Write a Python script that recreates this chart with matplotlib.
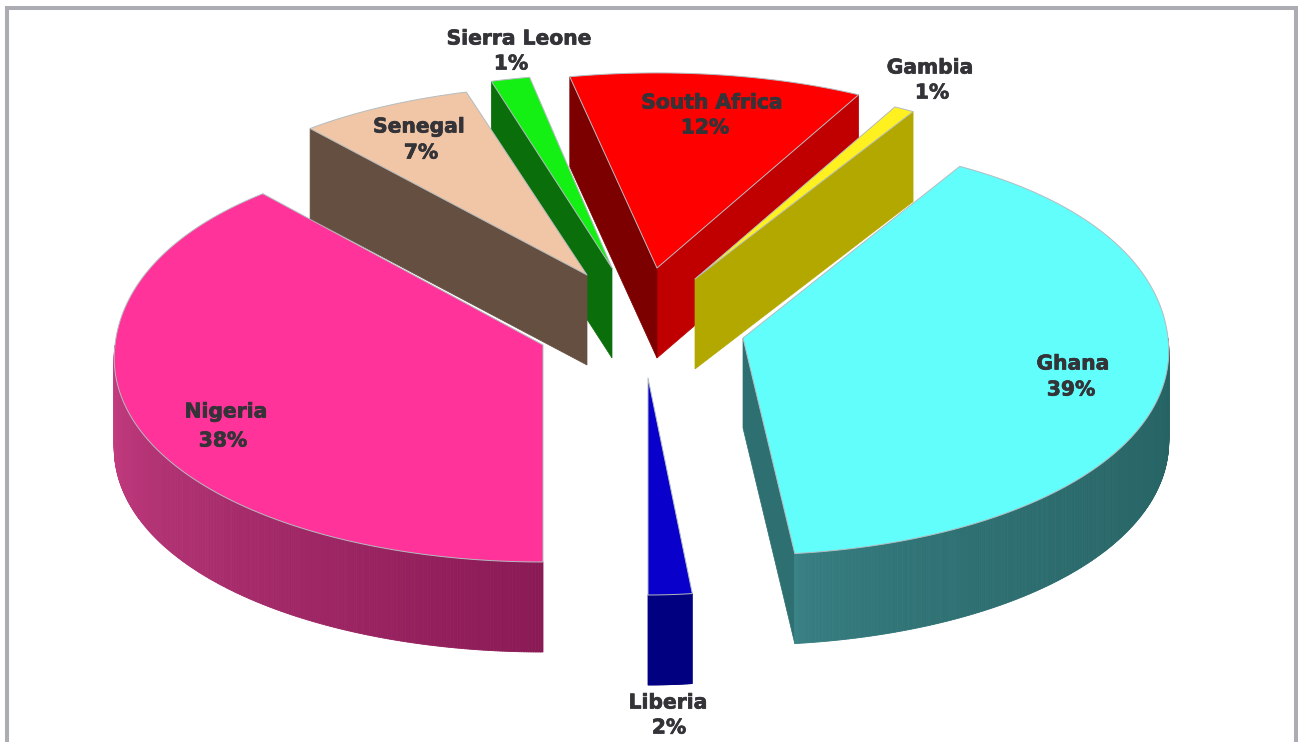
import numpy as np
import matplotlib
matplotlib.use("Agg")
import matplotlib.pyplot as plt
import matplotlib.patheffects as pe
from matplotlib.patches import Polygon
from matplotlib.collections import PolyCollection

# data (clockwise from the first slice)
countries = ["Ghana", "Liberia", "Nigeria", "Senegal", "Sierra Leone", "South Africa", "Gambia"]
shares = [39, 2, 38, 7, 1, 12, 1]

# styling and layout
top_colors = ["#62FEFC", "#0A00CC", "#FF3399", "#F1C6A6", "#14F013", "#FF0000", "#FFF020"]
wall_low = ["#2E7072", "#000080", "#7D1A55", "#5F4A3C", "#0A6F0A", "#C00000", "#B3A800"]
wall_high = ["#2E7072", "#000080", "#7D1A55", "#654F40", "#0A6F0A", "#7D0000", "#B3A800"]
rim_left = ["#3A8488", "#000080", "#C63E83", "#654F40", "#0A6F0A", "#C00000", "#B3A800"]
rim_right = ["#266263", "#000080", "#8A1A55", "#654F40", "#0A6F0A", "#C00000", "#B3A800"]
rim_power = [0.45, 1.0, 1.0, 1.0, 1.0, 1.0, 1.0]
apex_x = [743, 648, 543, 587, 612, 657, 695]
apex_y = [338, 378, 345, 275, 268, 268, 279]
rx_scale = [0.993, 0.85, 1.0, 1.0, 1.0, 1.0, 0.985]
ry_scale = [1.0, 1.0, 1.0, 0.96, 0.98, 0.985, 0.98]
# small per-slice corrections (degrees) for the picture's perspective
nudge_hi = [0.5, 0.0, 0.6, 0.0, 0.0, -1.3, -0.6]
nudge_lo = [0.0, 0.6, 0.6, 0.0, -2.0, -0.4, 0.0]
draw_order = [2, 4, 3, 5, 6, 0, 1]
label_xy = [(1073, 364), (668, 703), (226, 412), (419, 127), (519, 39), (712, 103), (930, 68)]
value_xy = [(1071, 390), (669, 728), (223, 441), (421, 153), (511, 64), (705, 128), (932, 93)]
START = 57.0
RX, RY_FRONT, RY_BACK, Q, K, DEPTH = 428.0, 217.0, 233.0, 0.15, 0.06, 90.0
W, H = 1298, 742

fig = plt.figure(figsize=(W / 100, H / 100), dpi=100, facecolor="white")
ax = fig.add_axes([0, 0, 1, 1])
ax.set_xlim(0, W)
ax.set_ylim(H, 0)
ax.axis("off")

# frame (open at the bottom)
ax.plot([7, 7, 1295.5, 1295.5], [H, 8, 8, H], color="#ABADB2", lw=2.9,
        solid_joinstyle="miter", zorder=0)


def project(t, i):
    s, c = np.sin(t), np.cos(t)
    x = apex_x[i] + rx_scale[i] * RX * c * (1 - K * s)
    y = apex_y[i] - ry_scale[i] * np.where(s > 0, RY_BACK * s * (1 - Q * s), RY_FRONT * s)
    return x, y


def mix(c0, c1, n, power):
    a = np.array(matplotlib.colors.to_rgb(c0))
    b = np.array(matplotlib.colors.to_rgb(c1))
    return [a + (b - a) * f ** power for f in np.linspace(0, 1, n)]


fractions = np.array(shares) / sum(shares) * 360.0
ends = START - np.cumsum(fractions)
starts = ends + fractions
z = 1
for i in draw_order:
    hi, lo = np.radians(starts[i] + nudge_hi[i]), np.radians(ends[i] + nudge_lo[i])
    t = np.linspace(lo, hi, max(12, int(shares[i] * 6)))
    x, y = project(t, i)
    ax0, ay0 = apex_x[i], apex_y[i]

    # radial walls facing the viewer
    if np.sin(lo - np.pi / 2) < -1e-3:
        ax.add_patch(Polygon([(ax0, ay0), (x[0], y[0]), (x[0], y[0] + DEPTH), (ax0, ay0 + DEPTH)],
                             closed=True, fc=wall_low[i], ec=wall_low[i], lw=0.5, zorder=z))
    if np.sin(hi + np.pi / 2) < -1e-3:
        ax.add_patch(Polygon([(ax0, ay0), (x[-1], y[-1]), (x[-1], y[-1] + DEPTH), (ax0, ay0 + DEPTH)],
                             closed=True, fc=wall_high[i], ec=wall_high[i], lw=0.5, zorder=z))
    z += 1

    # outer rim with a horizontal gradient
    fine = np.linspace(lo, hi, max(60, shares[i] * 12))
    fine = fine[np.sin(fine) < 0.0]
    if fine.size > 1:
        fx, fy = project(fine, i)
        quads = [[(fx[j], fy[j]), (fx[j + 1], fy[j + 1]),
                  (fx[j + 1], fy[j + 1] + DEPTH), (fx[j], fy[j] + DEPTH)]
                 for j in range(fine.size - 1)]
        grad = mix(rim_left[i], rim_right[i], fine.size - 1, rim_power[i])
        ax.add_collection(PolyCollection(quads, facecolors=grad, edgecolors=grad, linewidths=0.6, zorder=z))
    z += 1

    # top face
    ax.add_patch(Polygon(np.vstack([[ax0, ay0], np.column_stack([x, y])]), closed=True,
                         fc=top_colors[i], ec="#B4BCC0", lw=0.7, joinstyle="round", zorder=z))
    z += 1

# labels
bold = [pe.withStroke(linewidth=0.5, foreground="#333338")]
for i, name in enumerate(countries):
    ax.text(*label_xy[i], name, ha="center", va="center", fontsize=14.6, fontweight="bold",
            family="DejaVu Sans", color="#333338", zorder=100, path_effects=bold)
    ax.text(*value_xy[i], f"{shares[i]}%", ha="center", va="center", fontsize=14.6, fontweight="bold",
            family="DejaVu Sans", color="#333338", zorder=100, path_effects=bold)

fig.savefig("out.png", dpi=100, facecolor="white")
